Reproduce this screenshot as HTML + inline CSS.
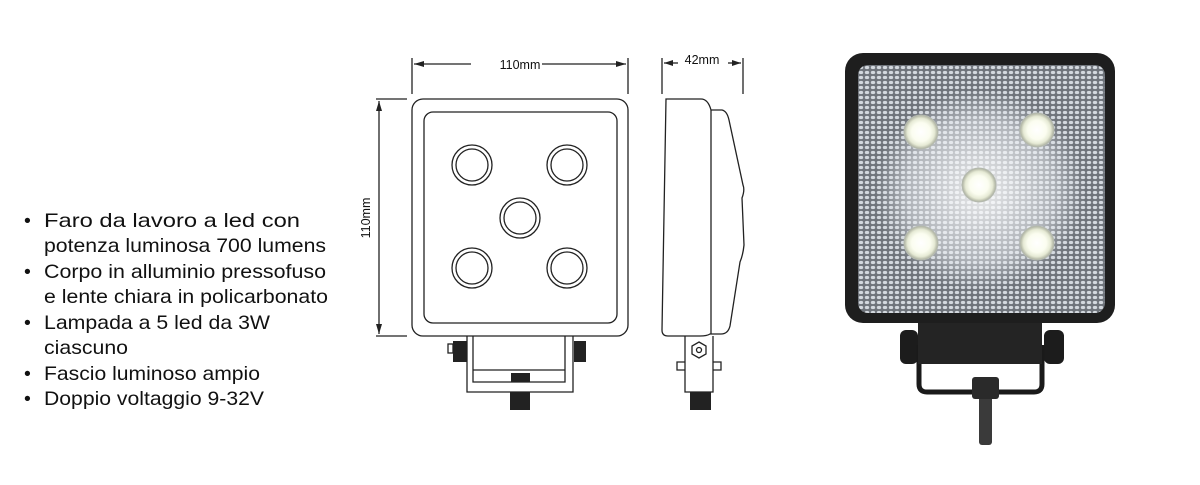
<!DOCTYPE html>
<html><head><style>
html,body{margin:0;padding:0;background:#fff;width:1200px;height:485px;overflow:hidden}
svg{display:block}
text{font-family:"Liberation Sans",Arial,sans-serif;fill:#111}
</style></head><body>
<svg width="1200" height="485" viewBox="0 0 1200 485" xmlns="http://www.w3.org/2000/svg">
<defs>
<pattern id="dots" width="6" height="5" patternUnits="userSpaceOnUse">
<rect width="6" height="5" fill="#6f747b"/>
<ellipse cx="3" cy="2.5" rx="2.2" ry="1.6" fill="#d3d8de"/>
</pattern>
<radialGradient id="glow" cx="50%" cy="50%" r="50%">
<stop offset="0" stop-color="#ffffff" stop-opacity="0.85"/>
<stop offset="0.7" stop-color="#eef1f5" stop-opacity="0.5"/>
<stop offset="1" stop-color="#dfe4ea" stop-opacity="0"/>
</radialGradient>
<radialGradient id="led" cx="50%" cy="50%" r="50%">
<stop offset="0" stop-color="#fff"/>
<stop offset="0.55" stop-color="#fbfdf0"/>
<stop offset="0.8" stop-color="#e6ead5"/>
<stop offset="1" stop-color="#a9ad9c"/>
</radialGradient>
</defs>

<g font-size="19.5">
<text x="24" y="227">•</text><text x="44" y="227" textLength="256" lengthAdjust="spacingAndGlyphs">Faro da lavoro a led con</text>
<text x="44" y="252" textLength="282" lengthAdjust="spacingAndGlyphs">potenza luminosa 700 lumens</text>
<text x="24" y="278">•</text><text x="44" y="278" textLength="282" lengthAdjust="spacingAndGlyphs">Corpo in alluminio pressofuso</text>
<text x="44" y="303" textLength="284" lengthAdjust="spacingAndGlyphs">e lente chiara in policarbonato</text>
<text x="24" y="329">•</text><text x="44" y="329" textLength="226" lengthAdjust="spacingAndGlyphs">Lampada a 5 led da 3W</text>
<text x="44" y="354" textLength="84" lengthAdjust="spacingAndGlyphs">ciascuno</text>
<text x="24" y="380">•</text><text x="44" y="380" textLength="216" lengthAdjust="spacingAndGlyphs">Fascio luminoso ampio</text>
<text x="24" y="405">•</text><text x="44" y="405" textLength="220" lengthAdjust="spacingAndGlyphs">Doppio voltaggio 9-32V</text>
</g>

<g stroke="#222" fill="none" stroke-width="1.3">
<line x1="412" y1="58" x2="412" y2="94"/><line x1="628" y1="58" x2="628" y2="94"/>
<line x1="414" y1="64" x2="471" y2="64"/><line x1="542" y1="64" x2="626" y2="64"/>
<line x1="376" y1="99" x2="407" y2="99"/><line x1="376" y1="336" x2="407" y2="336"/>
<line x1="379" y1="101" x2="379" y2="334"/>
<rect x="412" y="99" width="216" height="237" rx="11"/>
<rect x="424" y="112" width="193" height="211" rx="9"/>
<circle cx="472" cy="165" r="20"/><circle cx="472" cy="165" r="16"/>
<circle cx="567" cy="165" r="20"/><circle cx="567" cy="165" r="16"/>
<circle cx="520" cy="218" r="20"/><circle cx="520" cy="218" r="16"/>
<circle cx="472" cy="268" r="20"/><circle cx="472" cy="268" r="16"/>
<circle cx="567" cy="268" r="20"/><circle cx="567" cy="268" r="16"/>
<path d="M467 336 V392 H573 V336"/>
<path d="M473 336 V382 H565 V336"/>
<line x1="473" y1="370" x2="565" y2="370"/>
<rect x="448" y="344" width="5" height="9"/>
<line x1="662" y1="58" x2="662" y2="94"/><line x1="743" y1="58" x2="743" y2="94"/>
<line x1="664" y1="63" x2="678" y2="63"/><line x1="728" y1="63" x2="741" y2="63"/>
<path d="M666 99 H701 Q708 99 711 110 H722 Q727 111 729 120 L743 185 Q745 190 742 198 L744 245 Q743 255 740 262 L730 326 Q728 334 721 334 H710 Q707 336 700 336 H668 Q662 336 662 330 Z"/>
<line x1="711" y1="110" x2="711" y2="334"/>
<path d="M685 336 V392 H713 V336"/>
<polygon points="699,342 706,346 706,354 699,358 692,354 692,346"/>
<circle cx="699" cy="350" r="2.5"/>
<path d="M685 362 H677 V370 H685 M713 362 H721 V370 H713"/>
</g>
<g fill="#222">
<polygon points="414,64 424,61 424,67"/><polygon points="626,64 616,61 616,67"/>
<polygon points="379,101 376,111 382,111"/><polygon points="379,334 376,324 382,324"/>
<polygon points="664,63 673,60 673,66"/><polygon points="741,63 732,60 732,66"/>
<rect x="453" y="341" width="14" height="21"/><rect x="574" y="341" width="12" height="21"/>
<rect x="511" y="373" width="19" height="9"/><rect x="510" y="392" width="20" height="18"/>
<rect x="690" y="392" width="21" height="18"/>
</g>
<text x="520" y="69" font-size="12.5" text-anchor="middle">110mm</text>
<text x="702" y="64" font-size="12.5" text-anchor="middle">42mm</text>
<text transform="translate(370,218) rotate(-90)" font-size="12.5" text-anchor="middle">110mm</text>

<g>
<rect x="900" y="330" width="18" height="34" rx="6" fill="#1c1c1c"/>
<rect x="1044" y="330" width="20" height="34" rx="6" fill="#1c1c1c"/>
<path d="M919 345 V384 Q919 392 927 392 H1034 Q1042 392 1042 384 V345" stroke="#1a1a1a" stroke-width="5" fill="none"/>
<rect x="918" y="318" width="124" height="46" fill="#242424"/>
<rect x="979" y="395" width="13" height="50" rx="3" fill="#3a3a3a"/>
<rect x="972" y="377" width="27" height="22" rx="3" fill="#2a2a2a"/>
<rect x="845" y="53" width="270" height="270" rx="18" fill="#1e1e1e"/>
<rect x="858" y="65" width="247" height="248" rx="10" fill="url(#dots)"/>
<rect x="875" y="90" width="210" height="200" fill="url(#glow)"/>
<g fill="url(#led)" stroke="#b5bab0" stroke-width="1">
<circle cx="921" cy="132" r="17"/><circle cx="1037" cy="130" r="17"/>
<circle cx="979" cy="185" r="17"/><circle cx="921" cy="243" r="17"/>
<circle cx="1037" cy="243" r="17"/>
</g>
</g>
</svg>
</body></html>
